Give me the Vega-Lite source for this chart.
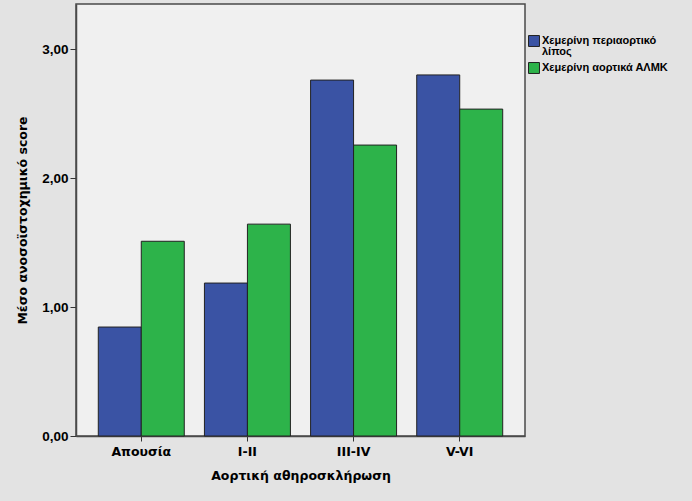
{
  "$schema": "https://vega.github.io/schema/vega-lite/v6.json",
  "width": 449,
  "height": 432,
  "autosize": "none",
  "padding": {"left": 76, "top": 4, "right": 167, "bottom": 65},
  "background": "#e3e3e3",
  "config": {
    "font": "Liberation Sans",
    "view": {"fill": "#f0f0f0", "stroke": "#4a4a4a", "strokeWidth": 1.5}
  },
  "data": {
    "values": [
      {"category": "Απουσία", "series": "Χεμερίνη περιαορτικό λίπος", "value": 0.845},
      {"category": "Απουσία", "series": "Χεμερίνη αορτικά ΑΛΜΚ", "value": 1.51},
      {"category": "I-II", "series": "Χεμερίνη περιαορτικό λίπος", "value": 1.186},
      {"category": "I-II", "series": "Χεμερίνη αορτικά ΑΛΜΚ", "value": 1.643},
      {"category": "III-IV", "series": "Χεμερίνη περιαορτικό λίπος", "value": 2.76},
      {"category": "III-IV", "series": "Χεμερίνη αορτικά ΑΛΜΚ", "value": 2.256},
      {"category": "V-VI", "series": "Χεμερίνη περιαορτικό λίπος", "value": 2.80},
      {"category": "V-VI", "series": "Χεμερίνη αορτικά ΑΛΜΚ", "value": 2.535}
    ]
  },
  "mark": {"type": "bar", "stroke": "#222222", "strokeWidth": 1},
  "encoding": {
    "x": {
      "field": "category",
      "type": "nominal",
      "sort": ["Απουσία", "I-II", "III-IV", "V-VI"],
      "scale": {"paddingInner": 0.19, "paddingOuter": 0.21},
      "axis": {
        "title": "Αορτική αθηροσκλήρωση",
        "labelAngle": 0,
        "labelFont": "DejaVu Sans",
        "labelFontWeight": "bold",
        "labelFontSize": 12.5,
        "labelColor": "#000000",
        "labelPadding": 4,
        "titleFont": "DejaVu Sans",
        "titleFontWeight": "bold",
        "titleFontSize": 12.5,
        "titleColor": "#000000",
        "titlePadding": 12,
        "tickColor": "#333333",
        "tickSize": 5,
        "domainColor": "#4a4a4a",
        "domainWidth": 1.5
      }
    },
    "xOffset": {
      "field": "series",
      "type": "nominal",
      "sort": ["Χεμερίνη περιαορτικό λίπος", "Χεμερίνη αορτικά ΑΛΜΚ"]
    },
    "y": {
      "field": "value",
      "type": "quantitative",
      "scale": {"domain": [0, 3.35], "nice": false},
      "axis": {
        "title": "Μέσο ανοσοϊστοχημικό score",
        "values": [0, 1, 2, 3],
        "labelExpr": "replace(format(datum.value, '.2f'), '.', ',')",
        "grid": false,
        "labelFont": "Liberation Sans",
        "labelFontWeight": "bold",
        "labelFontSize": 13.5,
        "labelColor": "#000000",
        "labelPadding": 2,
        "titleFont": "DejaVu Sans",
        "titleFontWeight": "bold",
        "titleFontSize": 12.5,
        "titleColor": "#000000",
        "titlePadding": 12,
        "tickColor": "#333333",
        "tickSize": 6,
        "domainColor": "#4a4a4a",
        "domainWidth": 1.5
      }
    },
    "color": {
      "field": "series",
      "type": "nominal",
      "sort": ["Χεμερίνη περιαορτικό λίπος", "Χεμερίνη αορτικά ΑΛΜΚ"],
      "scale": {"range": ["#3a53a4", "#2db34a"]},
      "legend": {
        "title": null,
        "orient": "none",
        "legendX": 452,
        "legendY": 31,
        "symbolType": "square",
        "symbolSize": 120,
        "symbolStrokeColor": "#222222",
        "symbolStrokeWidth": 1,
        "symbolOpacity": 1,
        "labelFont": "Liberation Sans",
        "labelFontWeight": "bold",
        "labelFontSize": 11,
        "labelColor": "#000000",
        "labelOffset": 2,
        "labelLimit": 200,
        "rowPadding": 3,
        "labelExpr": "datum.label == 'Χεμερίνη περιαορτικό λίπος' ? ['Χεμερίνη περιαορτικό', 'λίπος'] : datum.label",
        "encode": {"labels": {"update": {"lineHeight": {"value": 10.5}}}}
      }
    }
  }
}
